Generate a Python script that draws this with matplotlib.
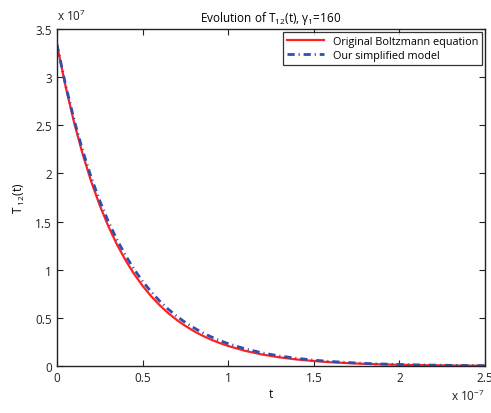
import matplotlib
matplotlib.use("Agg")
import matplotlib.pyplot as plt
import numpy as np

plt.rcParams['font.family'] = ['Open Sans', 'DejaVu Sans']
plt.rcParams['mathtext.fontset'] = 'custom'
plt.rcParams['mathtext.rm'] = 'Open Sans'
plt.rcParams['mathtext.it'] = 'Open Sans:italic'

# time in units of 1e-7
t = [0, 0.05, 0.1, 0.15, 0.2, 0.25, 0.3, 0.35, 0.4, 0.45, 0.5, 0.55, 0.6, 0.65,
     0.7, 0.75, 0.8, 0.85, 0.9, 0.95, 1.0, 1.1, 1.2, 1.3, 1.4, 1.5, 1.6, 1.7,
     1.8, 1.9, 2.0, 2.1, 2.2, 2.3, 2.4, 2.5]
# T12 in units of 1e7
boltzmann = [3.34, 2.907, 2.530, 2.202, 1.916, 1.668, 1.452, 1.263, 1.100, 0.957,
             0.833, 0.725, 0.631, 0.549, 0.478, 0.416, 0.362, 0.315, 0.274, 0.239,
             0.208, 0.157, 0.119, 0.090, 0.068, 0.052, 0.039, 0.030, 0.022, 0.017,
             0.013, 0.010, 0.007, 0.006, 0.004, 0.003]
simplified = [3.34, 2.923, 2.558, 2.239, 1.959, 1.715, 1.501, 1.313, 1.150, 1.006,
              0.880, 0.771, 0.674, 0.590, 0.516, 0.452, 0.396, 0.346, 0.303, 0.265,
              0.232, 0.178, 0.136, 0.104, 0.080, 0.061, 0.047, 0.036, 0.027, 0.021,
              0.016, 0.012, 0.009, 0.007, 0.005, 0.004]

xticks = [0, 0.5, 1, 1.5, 2, 2.5]
xticklabels = ["0", "0.5", "1", "1.5", "2", "2.5"]
yticks = [0, 0.5, 1, 1.5, 2, 2.5, 3, 3.5]
yticklabels = ["0", "0.5", "1", "1.5", "2", "2.5", "3", "3.5"]

fig = plt.figure(figsize=(4.91, 4.14), dpi=100)
ax = fig.add_axes([0.116, 0.1135, 0.872, 0.814])

ax.plot(t, boltzmann, color='#ff2020', lw=1.6, label='Original Boltzmann equation')
ax.plot(t, simplified, color='#2f4fb0', lw=2.0, ls=(0, (2.6, 1.4, 0.4, 1.4)),
        label='Our simplified model')

ax.set_xlim(0, 2.5)
ax.set_ylim(0, 3.5)
ax.set_xticks(xticks)
ax.set_xticklabels(xticklabels)
ax.set_yticks(yticks)
ax.set_yticklabels(yticklabels)
ax.tick_params(direction='in', top=True, right=True, labelsize=8.5, length=4,
               width=0.8, colors='#222222')
for s in ax.spines.values():
    s.set_linewidth(1.0)
    s.set_color('#222222')

ax.set_xlabel('t', fontsize=8.5, labelpad=2)
ax.set_ylabel('T$_{\\ 12}$(t)', fontsize=8.5, labelpad=6)
ax.set_title('Evolution of T$_{12}$(t), γ$_1$=160', fontsize=8.5, pad=6)

fig.text(0.116, 0.942, 'x 10$^{7}$', fontsize=8.5, ha='left', va='bottom', color='#222222')
fig.text(0.988, 0.025, 'x 10$^{-7}$', fontsize=8.5, ha='right', va='bottom', color='#222222')

leg = ax.legend(loc='upper right', fontsize=7.8, frameon=True, fancybox=False,
                edgecolor='black', borderaxespad=0.3, handlelength=3.4,
                borderpad=0.35, labelspacing=0.25)
leg.get_frame().set_linewidth(0.9)

fig.savefig('out.png', dpi=100)
